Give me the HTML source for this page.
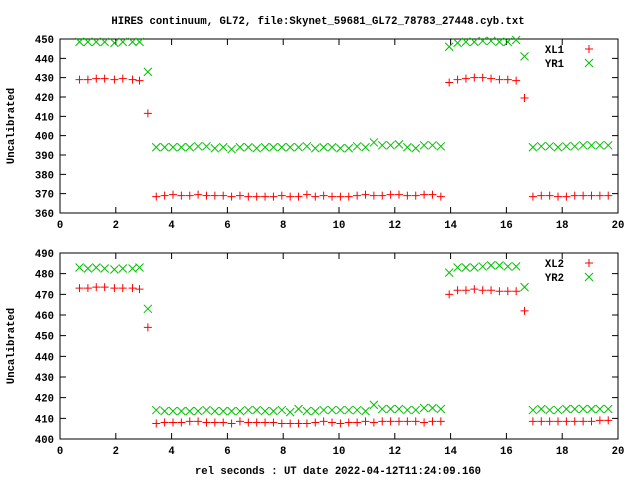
<!DOCTYPE html>
<html><head><meta charset="utf-8"><style>
body{margin:0;background:#fff}
svg{display:block}
text{font-family:"Liberation Mono",monospace;font-weight:bold;font-size:10.6px;fill:#000}
</style></head><body>
<svg id="c" width="640" height="480" xmlns="http://www.w3.org/2000/svg">
<rect width="640" height="480" fill="#fff"/>
<text x="318" y="24" text-anchor="middle">HIRES continuum, GL72, file:Skynet_59681_GL72_78783_27448.cyb.txt</text>
<text x="338" y="474" text-anchor="middle">rel seconds : UT date 2022-04-12T11:24:09.160</text>
</svg>
<script>
const times=[0.7,1.0,1.3,1.6,1.95,2.25,2.6,2.85,3.15,
3.45,3.75,4.05,4.35,4.65,4.95,5.25,5.55,5.85,6.15,6.45,6.75,7.05,7.35,7.65,7.95,8.25,8.55,8.85,9.15,9.45,9.75,10.05,10.35,10.65,10.95,11.25,11.55,11.85,12.15,12.45,12.75,13.05,13.35,13.65,
13.95,14.25,14.55,14.85,15.15,15.45,15.75,16.05,16.35,16.65,
16.95,17.25,17.55,17.85,18.15,18.45,18.75,19.05,19.35,19.65];
const xl1=[429,429,429.5,429.5,429,429.5,429,428.5,411.5,
368.5,369,369.5,369,369,369.5,369,369,369,368.5,369,368.5,368.5,368.5,368.5,369,368.5,368.5,369.5,368.5,369,368.5,368.5,368.5,369,369.5,369,369,369.5,369.5,369,369,369.5,369.5,368.5,
427.5,429,429.5,430,430,429.5,429,429,428.5,419.5,
368.5,369,369,368.5,368.5,369,369,369,369,369];
const yr1=[448.5,448.5,448.5,448.5,448,448.5,448.5,448.5,433,
394,394,394,394,394,394.5,394.5,393.5,394,393,394,394,393.5,394,394,394,394,394,394.5,393.5,394,394,393.5,393.5,394.5,394,396.5,395,395,395.5,394,393.5,395,395,394.5,
446,448,448.5,448.5,449,449,448.5,448.5,449.5,441,
394,394.5,394.5,394,394.5,394.5,395,395,395,395];
const xl2=[473,473,473.5,473.5,473,473,473,472.5,454,
407.5,408,408,408,408.5,408.5,408,408,408,407.5,408.5,408,408,408,408,407.5,407.5,407.5,407.5,408,408.5,408,407.5,408,408,408.5,408,408.5,408.5,408.5,408.5,408.5,408,408.5,408.5,
470,472,472,472.5,472,472,471.5,471.5,471.5,462,
408.5,408.5,408.5,408.5,408.5,408.5,408.5,408.5,409,409];
const yr2=[483,482.5,483,482.5,482,482.5,482.5,483,463,
414,413.5,413.5,413.5,413.5,413.5,414,413.5,413.5,413.5,413.5,414,414,413.5,413.5,414,413,414.5,413.5,413.5,414,414,414,414,414,413.5,416.5,414.5,414.5,414.5,414,414,415,415,414.5,
480.5,483,483,483,483.5,484,484,483.5,483.5,473.5,
414,414.5,414,414,414.5,414.5,414.5,414.5,414.5,414.5];
const xTicks=[0,2,4,6,8,10,12,14,16,18,20];
const yTicksTop=[360,370,380,390,400,410,420,430,440,450];
const yTicksBot=[400,410,420,430,440,450,460,470,480,490];
const seriesTop=[["XL1",xl1,"plus"],["YR1",yr1,"cross"]];
const seriesBot=[["XL2",xl2,"plus"],["YR2",yr2,"cross"]];

const svg=document.getElementById('c');
const NS='http://www.w3.org/2000/svg';
function mk(tag,attrs,parent){const e=document.createElementNS(NS,tag);for(const k in attrs)e.setAttribute(k,attrs[k]);(parent||svg).appendChild(e);return e;}
function marker(g,type,cx,cy,color){
  const s=4;let d;
  if(type==='plus')d=`M${cx-s},${cy}H${cx+s}M${cx},${cy-s}V${cy+s}`;
  else d=`M${cx-s},${cy-s}L${cx+s},${cy+s}M${cx-s},${cy+s}L${cx+s},${cy-s}`;
  return mk('path',{d:d,stroke:color,'stroke-width':1,fill:'none'},g);
}
function panel(name,L,R,T,B,ymin,ymax,yTicks,series,ylabelY){
  const g=mk('g',{});
  
  
  const xs=v=>L+(v-0)/(20-0)*(R-L);
  const ys=v=>B-(v-ymin)/(ymax-ymin)*(B-T);
  const frame=mk('rect',{x:L,y:T,width:R-L,height:B-T,fill:'none',stroke:'#000','stroke-width':1},g);
  
  
  xTicks.forEach(t=>{
    const x=xs(t);
    mk('path',{d:`M${x},${B}v-6M${x},${T}v6`,stroke:'#000'},g);
    const tx=mk('text',{x:x,y:B+15,'text-anchor':'middle'},g);tx.textContent=t;
    
    
  });
  yTicks.forEach(t=>{
    const y=ys(t);
    mk('path',{d:`M${L},${y}h6M${R},${y}h-6`,stroke:'#000'},g);
    const tx=mk('text',{x:L-6,y:y+4,'text-anchor':'end'},g);tx.textContent=t;
    
    
  });
  const yl=mk('text',{x:0,y:0,'text-anchor':'middle',transform:`translate(14,${ylabelY}) rotate(-90)`},g);
  yl.textContent='Uncalibrated';
  
  
  series.forEach((s,si)=>{
    const color=s[2]==='plus'?'#ff0000':'#00c000';
    const sg=mk('g',{},g);
    
    
    s[1].forEach((v,i)=>{
      const m=marker(sg,s[2],xs(times[i]),ys(v),color);
      
      
    });
    const ly=T+10+si*14;
    const lt=mk('text',{x:564,y:ly+4,'text-anchor':'end'},g);lt.textContent=s[0];
    
    
    marker(g,s[2],589,ly,color);
  });
}
panel('top-panel',60,618,39,213,360,450,yTicksTop,seriesTop,126);
panel('bottom-panel',60,618,253,439,400,490,yTicksBot,seriesBot,346);
</script>
</body></html>
